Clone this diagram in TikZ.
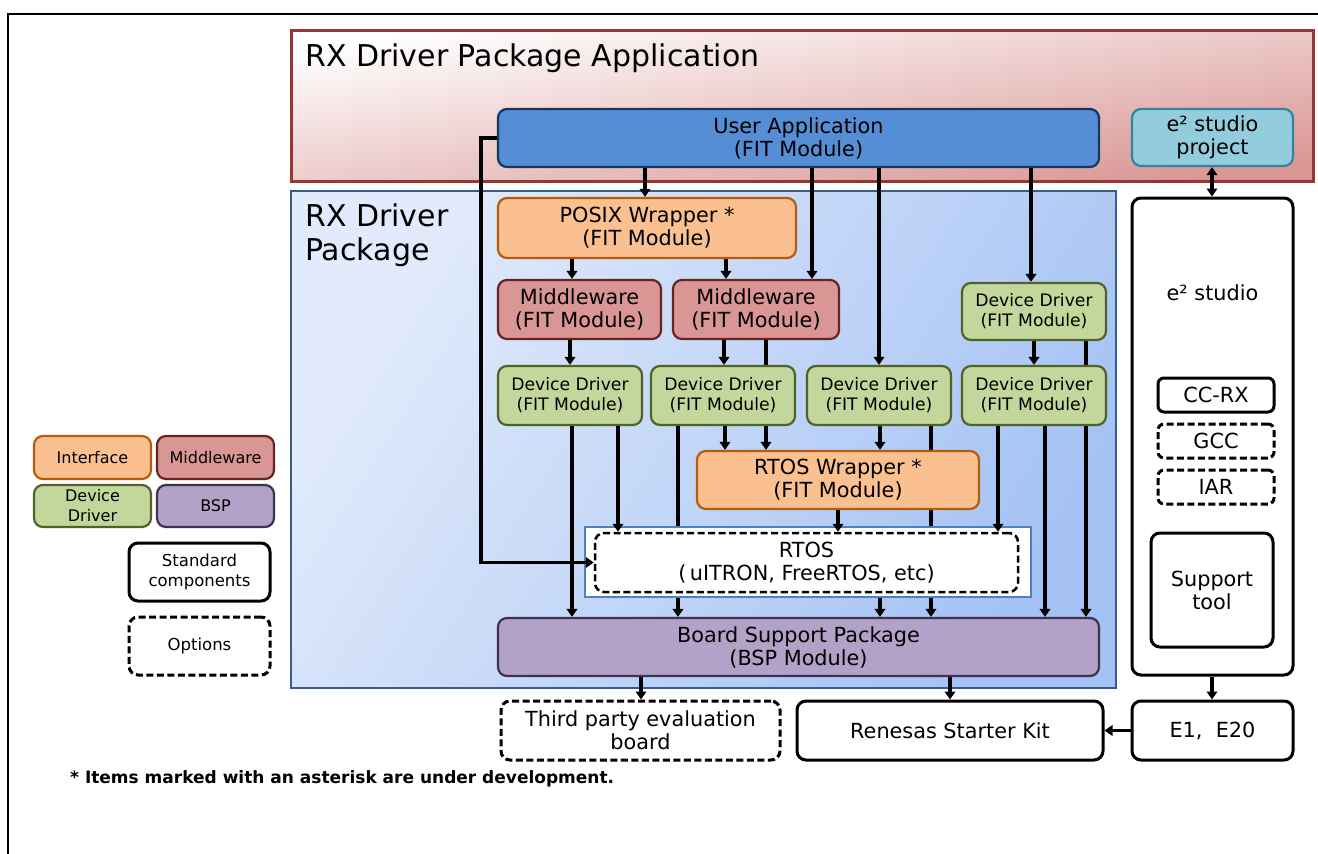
\documentclass[tikz,border=0pt]{standalone}
\usepackage{fontspec}
\setmainfont{DejaVu Sans}
\usetikzlibrary{arrows.meta}
\pgfdeclarelayer{back}\pgfdeclarelayer{mid}\pgfsetlayers{back,mid,main}
\definecolor{appline}{HTML}{953735}
\definecolor{apppink}{HTML}{D99694}
\definecolor{userfill}{HTML}{558ED5}
\definecolor{userline}{HTML}{17375E}
\definecolor{projfill}{HTML}{93CDDD}
\definecolor{projline}{HTML}{31859C}
\definecolor{pkgline}{HTML}{385D8A}
\definecolor{pkglight}{HTML}{E2EBFB}
\definecolor{pkgdark}{HTML}{A4C2F4}
\definecolor{ifill}{HTML}{FAC090}
\definecolor{iline}{HTML}{B65A0E}
\definecolor{mfill}{HTML}{D99694}
\definecolor{mline}{HTML}{632523}
\definecolor{dfill}{HTML}{C3D69B}
\definecolor{dline}{HTML}{4F6228}
\definecolor{bfill}{HTML}{B3A2C7}
\definecolor{bline}{HTML}{3F3151}
\definecolor{rtline}{HTML}{4F81BD}
\tikzset{
 boxbase/.style={draw, rounded corners=9pt, align=center, inner sep=0pt, text=black, font=\fontsize{20.8}{23}\selectfont},
 ifc/.style={boxbase, fill=ifill, draw=iline, line width=2.2pt},
 mwc/.style={boxbase, fill=mfill, draw=mline, line width=2.2pt},
 ddc/.style={boxbase, fill=dfill, draw=dline, line width=2.2pt, font=\fontsize{17.2}{20}\selectfont},
 bspc/.style={boxbase, fill=bfill, draw=bline, line width=2.2pt},
 stdc/.style={boxbase, fill=white, draw=black, line width=3pt},
 optc/.style={boxbase, fill=white, draw=black, line width=3pt, dash pattern=on 7pt off 3.5pt},
 legf/.style={font=\fontsize{16}{20}\selectfont},
 arr/.style={line width=3.2pt, -{Triangle[width=10.5pt,length=8pt]}},
 dblarr/.style={line width=3.2pt, {Triangle[width=10.5pt,length=8pt]}-{Triangle[width=10.5pt,length=8pt]}},
}
\begin{document}
\begin{tikzpicture}[x=1pt,y=-1pt]
\useasboundingbox (0,0) rectangle (1318,854);
\draw[line width=2pt] (1318,14) -- (8,14) -- (8,854);
% containers
\begin{pgfonlayer}{back}
\node[draw=appline, line width=3pt, top color=white, bottom color=apppink, shading angle=9, minimum width=1022pt, minimum height=151pt, inner sep=0pt] (app) at (802,105.5) {};
\node[draw=pkgline, line width=2.5pt, top color=pkglight, bottom color=pkgdark, shading angle=58, minimum width=825pt, minimum height=497pt, inner sep=0pt] (pkg) at (703.5,439.5) {};
\end{pgfonlayer}
\node[anchor=west, font=\fontsize{30}{34}\selectfont, inner sep=0pt] (apptitle) at (305,58) {RX Driver Package Application};
\node[anchor=north west, align=left, font=\fontsize{30}{34}\selectfont, inner sep=0pt] (pkgtitle) at (305,204) {RX Driver\\Package};
% main nodes
\node[boxbase, fill=userfill, draw=userline, line width=2.2pt, minimum width=601pt, minimum height=58pt] (user) at (798.5,138) {User Application\\(FIT Module)};
\node[boxbase, fill=projfill, draw=projline, line width=2.2pt, minimum width=161pt, minimum height=57pt] (proj) at (1212.5,137.5) {e² studio\\project};
\node[ifc, minimum width=298pt, minimum height=60pt] (posix) at (647,228) {POSIX Wrapper *\\(FIT Module)};
\node[mwc, minimum width=163pt, minimum height=59pt] (mw1) at (579.5,309.5) {Middleware\\(FIT Module)};
\node[mwc, minimum width=166pt, minimum height=59pt] (mw2) at (756,309.5) {Middleware\\(FIT Module)};
\node[ddc, minimum width=144pt, minimum height=57pt] (ddt) at (1034,311.5) {Device Driver\\(FIT Module)};
\node[ddc, minimum width=144pt, minimum height=59pt] (dd1) at (570,395.5) {Device Driver\\(FIT Module)};
\node[ddc, minimum width=144pt, minimum height=59pt] (dd2) at (723,395.5) {Device Driver\\(FIT Module)};
\node[ddc, minimum width=144pt, minimum height=59pt] (dd3) at (879,395.5) {Device Driver\\(FIT Module)};
\node[ddc, minimum width=144pt, minimum height=59pt] (dd4) at (1034,395.5) {Device Driver\\(FIT Module)};
\node[ifc, minimum width=282pt, minimum height=58pt] (rtw) at (838,480) {RTOS Wrapper *\\(FIT Module)};
\node[draw=rtline, fill=white, line width=1.2pt, minimum width=446pt, minimum height=70pt, inner sep=0pt] (rtosbg) at (808,562) {};
\node[optc, line width=2.5pt, minimum width=423pt, minimum height=59pt] (rtos) at (806.5,562.5) {RTOS\\(\,uITRON, FreeRTOS, etc)};
\node[bspc, minimum width=601pt, minimum height=58pt] (bsp) at (798.5,647) {Board Support Package\\(BSP Module)};
\node[optc, minimum width=279pt, minimum height=59pt] (third) at (640.5,730.5) {Third party evaluation\\board};
\node[stdc, minimum width=306pt, minimum height=59pt] (rsk) at (950,730.5) {Renesas Starter Kit};
\node[stdc, minimum width=161pt, minimum height=59pt] (e1) at (1212.5,730.5) {E1,\ \ E20};
\node[stdc, minimum width=161pt, minimum height=477pt] (studio) at (1212.5,436.5) {};
\node[font=\fontsize{20.8}{23}\selectfont] (studiolbl) at (1212.5,293) {e² studio};
\node[stdc, rounded corners=6pt, minimum width=116pt, minimum height=34pt] (ccrx) at (1216,395) {CC-RX};
\node[optc, rounded corners=6pt, minimum width=116pt, minimum height=34pt] (gcc) at (1216,441) {GCC};
\node[optc, rounded corners=6pt, minimum width=116pt, minimum height=34pt] (iar) at (1216,487) {IAR};
\node[stdc, minimum width=122pt, minimum height=114pt] (supp) at (1212,590) {Support\\tool};
% legend
\node[ifc, legf, minimum width=117pt, minimum height=43pt] (legif) at (92.5,457.5) {Interface};
\node[mwc, legf, minimum width=117pt, minimum height=43pt] (legmw) at (215.5,457.5) {Middleware};
\node[ddc, legf, minimum width=117pt, minimum height=42pt] (legdd) at (92.5,506) {Device\\Driver};
\node[bspc, legf, minimum width=117pt, minimum height=42pt] (legbsp) at (215.5,506) {BSP};
\node[stdc, font=\fontsize{16.5}{20}\selectfont, minimum width=141pt, minimum height=58pt] (legstd) at (199.5,572) {Standard\\components};
\node[optc, font=\fontsize{16.5}{20}\selectfont, minimum width=141pt, minimum height=58pt] (legopt) at (199.5,646) {Options};
\node[anchor=west, inner sep=0pt, font=\bfseries\fontsize{17}{20}\selectfont] (note) at (70,779) {* Items marked with an asterisk are under development.};
% connectors behind nodes
\begin{pgfonlayer}{mid}
\draw[arr] (user.south -| 645,0) -- (posix.north -| 645,0);
\draw[arr] (user.south -| 812,0) -- (mw2.north -| 812,0);
\draw[arr] (user.south -| 879,0) -- (dd3.north -| 879,0);
\draw[arr] (user.south -| 1031,0) -- (ddt.north -| 1031,0);
\draw[arr] (posix.south -| 572,0) -- (mw1.north -| 572,0);
\draw[arr] (posix.south -| 726,0) -- (mw2.north -| 726,0);
\draw[arr] (mw1.south -| 570,0) -- (dd1.north -| 570,0);
\draw[arr] (mw2.south -| 724,0) -- (dd2.north -| 724,0);
\draw[arr] (mw2.south -| 766,0) -- (rtw.north -| 766,0);
\draw[arr] (ddt.south -| 1034,0) -- (dd4.north -| 1034,0);
\draw[arr] (ddt.south -| 1086,0) -- (bsp.north -| 1086,0);
\draw[arr] (dd1.south -| 572,0) -- (bsp.north -| 572,0);
\draw[arr] (dd2.south -| 678,0) -- (bsp.north -| 678,0);
\draw[arr] (dd2.south -| 725,0) -- (rtw.north -| 725,0);
\draw[arr] (dd3.south -| 880,0) -- (rtw.north -| 880,0);
\draw[arr] (dd3.south -| 931,0) -- (bsp.north -| 931,0);
\draw[arr] (dd4.south -| 1045,0) -- (bsp.north -| 1045,0);
\draw[arr] (rtosbg.south -| 880,0) -- (bsp.north -| 880,0);
\draw[arr] (bsp.south -| 641,0) -- (third.north -| 641,0);
\draw[arr] (bsp.south -| 950,0) -- (rsk.north -| 950,0);
\draw[arr] (studio.south -| 1212,0) -- (e1.north -| 1212,0);
\draw[arr] (e1.west) -- (rsk.east);
\draw[dblarr] (proj.south -| 1212,0) -- (studio.north -| 1212,0);
\end{pgfonlayer}
% connectors over the RTOS frame
\coordinate (loopc) at (481,562.5);
\draw[arr] (user.west) -| (loopc) -- (rtos.west);
\draw[arr] (dd1.south -| 618,0) -- (rtos.north -| 618,0);
\draw[arr] (rtw.south -| 838,0) -- (rtos.north -| 838,0);
\draw[arr] (dd4.south -| 998,0) -- (rtos.north -| 998,0);
\end{tikzpicture}
\end{document}
